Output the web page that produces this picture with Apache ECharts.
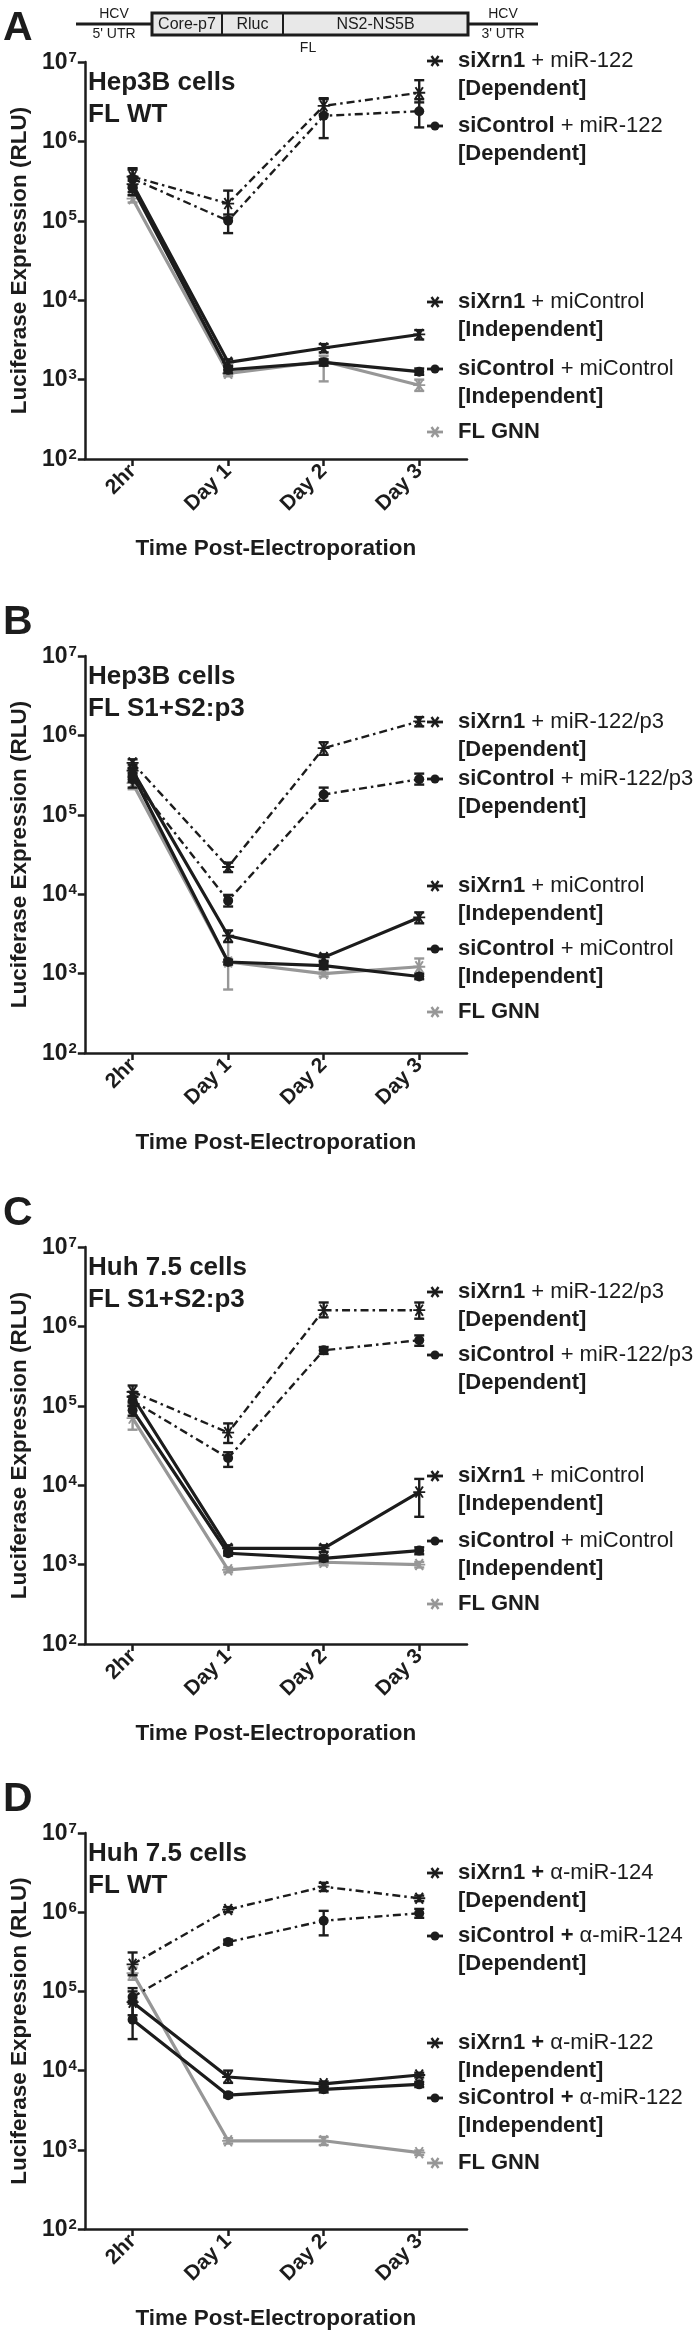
<!DOCTYPE html>
<html><head><meta charset="utf-8">
<script src="https://cdn.jsdelivr.net/npm/echarts@6/dist/echarts.min.js"></script>
<style>html,body{margin:0;padding:0;background:#fff}#c{width:700px;height:2331px}</style>
</head><body><div id="c"></div>
<script>
// ---------- categories / tick labels ----------
const categories = ['2hr', 'Day 1', 'Day 2', 'Day 3'];
const yTickExponents = [2, 3, 4, 5, 6, 7];

// ---------- Panel A: Hep3B cells, FL WT ----------
const A_siXrn1_miR122 = [3.6e5, 1.65e5, 2.8e6, 4.1e6];
const A_siXrn1_miR122_err = [[2.8e5, 4.6e5], [1.1e5, 2.4e5], [2.2e6, 3.4e6], [3.1e6, 5.9e6]];
const A_siCtrl_miR122 = [3.4e5, 1.0e5, 2.1e6, 2.4e6];
const A_siCtrl_miR122_err = [[2.6e5, 4.4e5], [7.0e4, 1.2e5], [1.1e6, 3.5e6], [1.5e6, 3.4e6]];
const A_siXrn1_miCtrl = [2.9e5, 1.65e3, 2.5e3, 3.7e3];
const A_siXrn1_miCtrl_err = [[2.3e5, 3.6e5], [1.5e3, 1.8e3], [2.2e3, 2.8e3], [3.2e3, 4.2e3]];
const A_siCtrl_miCtrl = [2.6e5, 1.33e3, 1.65e3, 1.26e3];
const A_siCtrl_miCtrl_err = [[2.1e5, 3.2e5], [1.2e3, 1.45e3], [1.5e3, 1.8e3], [1.15e3, 1.38e3]];
const A_GNN = [1.9e5, 1.2e3, 1.7e3, 8.5e2];
const A_GNN_err = [[1.7e5, 2.1e5], [1.1e3, 1.3e3], [9.5e2, 2.0e3], [7.2e2, 1.0e3]];

// ---------- Panel B: Hep3B cells, FL S1+S2:p3 ----------
const B_siXrn1_miR122p3 = [4.5e5, 2.2e4, 6.9e5, 1.5e6];
const B_siXrn1_miR122p3_err = [[3.8e5, 5.0e5], [1.9e4, 2.5e4], [5.7e5, 8.2e5], [1.3e6, 1.7e6]];
const B_siCtrl_miR122p3 = [2.8e5, 8.3e3, 1.8e5, 2.8e5];
const B_siCtrl_miR122p3_err = [[2.2e5, 3.4e5], [7.0e3, 9.8e3], [1.5e5, 2.2e5], [2.4e5, 3.3e5]];
const B_siXrn1_miCtrl = [3.6e5, 3.0e3, 1.6e3, 5.1e3];
const B_siXrn1_miCtrl_err = [[3.0e5, 4.3e5], [2.5e3, 3.5e3], [1.45e3, 1.75e3], [4.3e3, 5.9e3]];
const B_siCtrl_miCtrl = [3.2e5, 1.4e3, 1.26e3, 9.2e2];
const B_siCtrl_miCtrl_err = [[2.6e5, 3.9e5], [1.3e3, 1.5e3], [1.15e3, 1.38e3], [8.5e2, 1.0e3]];
const B_GNN = [2.5e5, 1.4e3, 1.0e3, 1.22e3];
const B_GNN_err = [[2.1e5, 3.0e5], [6.3e2, 2.5e3], [9.2e2, 1.1e3], [9.5e2, 1.55e3]];

// ---------- Panel C: Huh 7.5 cells, FL S1+S2:p3 ----------
const C_siXrn1_miR122p3 = [1.5e5, 4.6e4, 1.6e6, 1.6e6];
const C_siXrn1_miR122p3_err = [[1.3e5, 1.8e5], [3.4e4, 6.0e4], [1.3e6, 2.0e6], [1.25e6, 2.0e6]];
const C_siCtrl_miR122p3 = [1.16e5, 2.2e4, 5.0e5, 6.7e5];
const C_siCtrl_miR122p3_err = [[1.0e5, 1.3e5], [1.7e4, 2.6e4], [4.5e5, 5.5e5], [5.7e5, 7.7e5]];
const C_siXrn1_miCtrl = [1.3e5, 1.6e3, 1.6e3, 8.2e3];
const C_siXrn1_miCtrl_err = [[1.1e5, 1.5e5], [1.45e3, 1.75e3], [1.45e3, 1.75e3], [4.0e3, 1.2e4]];
const C_siCtrl_miCtrl = [8.8e4, 1.39e3, 1.2e3, 1.5e3];
const C_siCtrl_miCtrl_err = [[7.5e4, 1.0e5], [1.3e3, 1.5e3], [1.1e3, 1.3e3], [1.35e3, 1.65e3]];
const C_GNN = [7.0e4, 8.6e2, 1.07e3, 1.0e3];
const C_GNN_err = [[5.0e4, 9.7e4], [8.0e2, 9.2e2], [9.8e2, 1.15e3], [9.2e2, 1.08e3]];

// ---------- Panel D: Huh 7.5 cells, FL WT ----------
const D_siXrn1_anti124 = [2.2e5, 1.08e6, 2.1e6, 1.5e6];
const D_siXrn1_anti124_err = [[1.6e5, 3.1e5], [1.0e6, 1.16e6], [1.85e6, 2.35e6], [1.38e6, 1.62e6]];
const D_siCtrl_anti124 = [8.5e4, 4.2e5, 7.8e5, 9.7e5];
const D_siCtrl_anti124_err = [[7.0e4, 1.0e5], [3.9e5, 4.5e5], [5.1e5, 1.04e6], [8.5e5, 1.1e6]];
const D_siXrn1_anti122 = [7.3e4, 8.3e3, 6.8e3, 8.8e3];
const D_siXrn1_anti122_err = [[5.0e4, 1.1e5], [7.0e3, 1.0e4], [6.3e3, 7.3e3], [8.2e3, 9.4e3]];
const D_siCtrl_anti122 = [4.4e4, 4.9e3, 5.8e3, 6.7e3];
const D_siCtrl_anti122_err = [[2.5e4, 7.6e4], [4.6e3, 5.2e3], [5.3e3, 6.3e3], [6.2e3, 7.2e3]];
const D_GNN = [1.7e5, 1.3e3, 1.3e3, 9.2e2];
const D_GNN_err = [[1.4e5, 2.0e5], [1.2e3, 1.4e3], [1.15e3, 1.45e3], [8.6e2, 9.8e2]];

// ---------- text ----------
const panelLetters = ['A', 'B', 'C', 'D'];
const panelTitles = [['Hep3B cells', 'FL WT'], ['Hep3B cells', 'FL S1+S2:p3'], ['Huh 7.5 cells', 'FL S1+S2:p3'], ['Huh 7.5 cells', 'FL WT']];
const legendA = [['siXrn1', ' + miR-122', '[Dependent]'], ['siControl', ' + miR-122', '[Dependent]'], ['siXrn1', ' + miControl', '[Independent]'], ['siControl', ' + miControl', '[Independent]'], ['FL GNN', '', '']];
const legendB = [['siXrn1', ' + miR-122/p3', '[Dependent]'], ['siControl', ' + miR-122/p3', '[Dependent]'], ['siXrn1', ' + miControl', '[Independent]'], ['siControl', ' + miControl', '[Independent]'], ['FL GNN', '', '']];
const legendC = legendB;
const legendD = [['siXrn1 +', ' α-miR-124', '[Dependent]'], ['siControl +', ' α-miR-124', '[Dependent]'], ['siXrn1 +', ' α-miR-122', '[Independent]'], ['siControl +', ' α-miR-122', '[Independent]'], ['FL GNN', '', '']];
const xAxisTitle = 'Time Post-Electroporation';
const yAxisTitle = 'Luciferase Expression (RLU)';

// ---------- layout ----------
const FONT = '"Liberation Sans", Arial, Helvetica, sans-serif';
const NARROW = '"Liberation Sans Narrow", "Liberation Sans", Arial, sans-serif';
const BLACK = '#1c1c1c', GREY = '#979797';
const panelTop = [62, 656, 1247, 1833];
const PH = 397, PL = 70, PW = 397;
const legendOffsets = [[-1, 64, 240, 307, 370], [66, 123, 230, 293, 356], [45, 108, 229, 294, 357], [40, 103, 210, 265, 330]];

const panels = [
  { legend: legendA, sets: [
    [A_siXrn1_miR122, A_siXrn1_miR122_err, 'dep', 'star'],
    [A_siCtrl_miR122, A_siCtrl_miR122_err, 'dep', 'circle'],
    [A_siXrn1_miCtrl, A_siXrn1_miCtrl_err, 'ind', 'star'],
    [A_siCtrl_miCtrl, A_siCtrl_miCtrl_err, 'ind', 'circle'],
    [A_GNN, A_GNN_err, 'gnn', 'star']]},
  { legend: legendB, sets: [
    [B_siXrn1_miR122p3, B_siXrn1_miR122p3_err, 'dep', 'star'],
    [B_siCtrl_miR122p3, B_siCtrl_miR122p3_err, 'dep', 'circle'],
    [B_siXrn1_miCtrl, B_siXrn1_miCtrl_err, 'ind', 'star'],
    [B_siCtrl_miCtrl, B_siCtrl_miCtrl_err, 'ind', 'circle'],
    [B_GNN, B_GNN_err, 'gnn', 'star']]},
  { legend: legendC, sets: [
    [C_siXrn1_miR122p3, C_siXrn1_miR122p3_err, 'dep', 'star'],
    [C_siCtrl_miR122p3, C_siCtrl_miR122p3_err, 'dep', 'circle'],
    [C_siXrn1_miCtrl, C_siXrn1_miCtrl_err, 'ind', 'star'],
    [C_siCtrl_miCtrl, C_siCtrl_miCtrl_err, 'ind', 'circle'],
    [C_GNN, C_GNN_err, 'gnn', 'star']]},
  { legend: legendD, sets: [
    [D_siXrn1_anti124, D_siXrn1_anti124_err, 'dep', 'star'],
    [D_siCtrl_anti124, D_siCtrl_anti124_err, 'dep', 'circle'],
    [D_siXrn1_anti122, D_siXrn1_anti122_err, 'ind', 'star'],
    [D_siCtrl_anti122, D_siCtrl_anti122_err, 'ind', 'circle'],
    [D_GNN, D_GNN_err, 'gnn', 'star']]}
];

const STAR = 'path://M0,4.2H10V5.8H0Z M1.2,0.4L2.6,-0.4L8.8,9.6L7.4,10.4Z M7.4,-0.4L8.8,0.4L2.6,10.4L1.2,9.6Z';

const grids = [], xAxes = [], yAxes = [], series = [], graphics = [];

panels.forEach((p, pi) => {
  const top = panelTop[pi];
  grids.push({ left: PL, top: top, width: PW, height: PH, containLabel: false });
  xAxes.push({
    type: 'category', gridIndex: pi, data: categories, boundaryGap: true,
    axisLine: { show: true, lineStyle: { color: BLACK, width: 2.5 } },
    axisTick: { show: true, alignWithLabel: true, length: 7, lineStyle: { color: BLACK, width: 2.5 } },
    axisLabel: { interval: 0, rotate: 45, margin: 9, fontSize: 21, fontWeight: 'bold', fontFamily: FONT, color: BLACK },
    name: xAxisTitle, nameLocation: 'middle', nameGap: 78,
    nameTextStyle: { fontSize: 22.5, fontWeight: 'bold', fontFamily: FONT, color: BLACK },
    splitLine: { show: false }
  });
  yAxes.push({
    type: 'log', logBase: 10, gridIndex: pi, min: Math.pow(10, yTickExponents[0]), max: Math.pow(10, yTickExponents[yTickExponents.length - 1]),
    interval: 1, splitNumber: 5,
    axisLine: { show: true, lineStyle: { color: BLACK, width: 2.5 } },
    axisTick: { show: true, length: 7, lineStyle: { color: BLACK, width: 2.5 } },
    minorTick: { show: false }, splitLine: { show: false },
    axisLabel: {
      margin: 8, color: BLACK,
      formatter: v => '{b|10}{s|' + Math.round(Math.log10(v)) + '}',
      rich: {
        b: { fontSize: 23, fontWeight: 'bold', fontFamily: FONT, color: BLACK, lineHeight: 24, verticalAlign: 'bottom' },
        s: { fontSize: 15, fontWeight: 'bold', fontFamily: FONT, color: BLACK, lineHeight: 24, verticalAlign: 'top', padding: [0, 0, 10, 1] }
      }
    },
    name: yAxisTitle, nameLocation: 'middle', nameGap: 47, nameRotate: 90,
    nameTextStyle: { fontSize: 22.5, fontWeight: 'bold', fontFamily: FONT, color: BLACK }
  });

  p.sets.forEach((s, si) => {
    const [vals, errs, kind, marker] = s;
    const color = kind === 'gnn' ? GREY : BLACK;
    const lineStyle = kind === 'dep' ? { color, width: 2.4, type: [8, 4, 2.5, 4] } : { color, width: 3.2 };
    const name = p.legend[si][0] + p.legend[si][1] + ' ' + p.legend[si][2];
    series.push({
      type: 'line', name: name, xAxisIndex: pi, yAxisIndex: pi,
      data: vals, lineStyle: lineStyle,
      symbol: marker === 'star' ? STAR : 'circle', symbolSize: marker === 'star' ? 12 : 10,
      itemStyle: { color: color, borderWidth: 0 },
      z: kind === 'gnn' ? 2 : 4, animation: false, silent: true
    });
    series.push({
      type: 'custom', xAxisIndex: pi, yAxisIndex: pi,
      data: errs.map((e, i) => [i, e[0], e[1]]),
      encode: { x: 0, y: [1, 2] },
      z: kind === 'gnn' ? 1 : 3, silent: true, animation: false,
      renderItem: (params, api) => {
        const x = api.value(0);
        const lo = api.coord([x, api.value(1)]);
        const hi = api.coord([x, api.value(2)]);
        const w = 5, st = { stroke: color, lineWidth: 2.4 };
        return { type: 'group', children: [
          { type: 'line', shape: { x1: lo[0], y1: lo[1], x2: hi[0], y2: hi[1] }, style: st },
          { type: 'line', shape: { x1: lo[0] - w, y1: lo[1], x2: lo[0] + w, y2: lo[1] }, style: st },
          { type: 'line', shape: { x1: hi[0] - w, y1: hi[1], x2: hi[0] + w, y2: hi[1] }, style: st }
        ]};
      }
    });
  });

  // panel letter
  graphics.push({ type: 'text', left: 3, top: top - 54, style: { text: panelLetters[pi], font: 'bold 41px ' + FONT, fill: BLACK } });
  // inner title
  graphics.push({ type: 'text', x: 88, y: top + 37, style: {
    text: panelTitles[pi].join('\n'), font: 'bold 26px ' + FONT, fill: BLACK, lineHeight: 32, verticalAlign: 'middle'
  }});
  // legend
  p.legend.forEach((lg, li) => {
    const y = top + legendOffsets[pi][li];
    const kind = p.sets[li][2], marker = p.sets[li][3];
    const color = kind === 'gnn' ? GREY : BLACK;
    const cx = 435;
    graphics.push({ type: 'line', shape: { x1: cx - 8, y1: y, x2: cx + 8, y2: y }, style: { stroke: color, lineWidth: 2.8 } });
    if (marker === 'circle') {
      graphics.push({ type: 'circle', shape: { cx: cx, cy: y, r: 4.5 }, style: { fill: color } });
    } else {
      graphics.push({ type: 'line', shape: { x1: cx - 3.5, y1: y - 5, x2: cx + 3.5, y2: y + 5 }, style: { stroke: color, lineWidth: 2.4 } });
      graphics.push({ type: 'line', shape: { x1: cx + 3.5, y1: y - 5, x2: cx - 3.5, y2: y + 5 }, style: { stroke: color, lineWidth: 2.4 } });
    }
    const txt = '{b|' + lg[0] + '}' + (lg[1] ? '{r|' + lg[1] + '}' : '') + (lg[2] ? '\n{b|' + lg[2] + '}' : '');
    graphics.push({ type: 'text', x: 458, y: y - 14, style: {
      text: txt, verticalAlign: 'top',
      rich: {
        b: { fontSize: 22, fontWeight: 'bold', fontFamily: FONT, fill: BLACK, lineHeight: 28 },
        r: { fontSize: 22, fontWeight: 'normal', fontFamily: FONT, fill: BLACK, lineHeight: 28 }
      }
    }});
  });
});

// construct diagram (panel A header)
const dg = { y: 24, boxTop: 13, boxH: 22, l0: 76, b0: 152, d1: 222, d2: 283, b1: 468, l1: 538 };
graphics.push({ type: 'line', shape: { x1: dg.l0, y1: dg.y, x2: dg.b0, y2: dg.y }, style: { stroke: BLACK, lineWidth: 3 } });
graphics.push({ type: 'line', shape: { x1: dg.b1, y1: dg.y, x2: dg.l1, y2: dg.y }, style: { stroke: BLACK, lineWidth: 3 } });
graphics.push({ type: 'rect', shape: { x: dg.b0, y: dg.boxTop, width: dg.b1 - dg.b0, height: dg.boxH }, style: { fill: '#e8e8e8', stroke: BLACK, lineWidth: 3 } });
[dg.d1, dg.d2].forEach(x => graphics.push({ type: 'line', shape: { x1: x, y1: dg.boxTop, x2: x, y2: dg.boxTop + dg.boxH }, style: { stroke: BLACK, lineWidth: 2 } }));
[['Core-p7', (dg.b0 + dg.d1) / 2], ['Rluc', (dg.d1 + dg.d2) / 2], ['NS2-NS5B', (dg.d2 + dg.b1) / 2]].forEach(([t, x]) =>
  graphics.push({ type: 'text', x: x, y: dg.y + 1, style: { text: t, font: '16px ' + NARROW, fill: BLACK, align: 'center', verticalAlign: 'middle' } }));
[['HCV', 114, 14], ["5' UTR", 114, 34], ['HCV', 503, 14], ["3' UTR", 503, 34], ['FL', 308, 48]].forEach(([t, x, y]) =>
  graphics.push({ type: 'text', x: x, y: y, style: { text: t, font: '14px ' + NARROW, fill: BLACK, align: 'center', verticalAlign: 'middle' } }));

const chart = echarts.init(document.getElementById('c'), null, { renderer: 'canvas' });
chart.setOption({
  animation: false, backgroundColor: '#fff',
  grid: grids, xAxis: xAxes, yAxis: yAxes, series: series, graphic: graphics
});
</script></body></html>
